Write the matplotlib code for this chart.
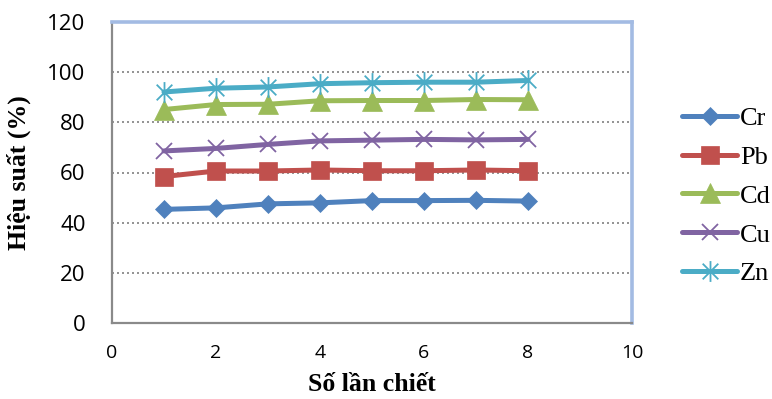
import matplotlib
matplotlib.use("Agg")
import matplotlib.pyplot as plt
from matplotlib.path import Path

# số lần chiết
so_lan = [1, 2, 3, 4, 5, 6, 7, 8]

# hiệu suất (%)
cr = [45.3, 45.9, 47.5, 47.9, 48.8, 48.8, 48.9, 48.6]
pb = [58.4, 60.6, 60.6, 61.0, 60.7, 60.7, 61.0, 60.7]
cd = [85.1, 87.1, 87.2, 88.6, 88.7, 88.7, 89.1, 89.0]
cu = [68.6, 69.6, 71.2, 72.6, 72.9, 73.2, 73.0, 73.2]
zn = [92.1, 93.6, 94.1, 95.4, 95.8, 96.0, 96.0, 96.7]

labels = ["Cr", "Pb", "Cd", "Cu", "Zn"]
colors = ["#4F81BD", "#C0504D", "#9BBB59", "#8064A2", "#4BACC6"]

# dấu sao kiểu Excel: chữ x + gạch đứng
star = Path(
    [(0, -1), (0, 1), (-0.75, -0.75), (0.75, 0.75), (-0.75, 0.75), (0.75, -0.75)],
    [Path.MOVETO, Path.LINETO] * 3,
)

styles = [
    dict(marker="D", ms=9.5, mew=0.5),
    dict(marker="s", ms=12.5, mew=0.5),
    dict(marker="^", ms=15, mew=0.5),
    dict(marker="x", ms=12, mew=1.3),
    dict(marker=star, ms=15, mew=1.3),
]

fig = plt.figure(figsize=(7.72, 3.99), dpi=100)
ax = fig.add_axes([112 / 772, 1 - 323 / 399, 520 / 772, 301 / 399])

for y, lab, col, st in zip([cr, pb, cd, cu, zn], labels, colors, styles):
    ax.plot(so_lan, y, color=col, lw=3.6, label=lab,
            mfc=col, mec=col, solid_capstyle="round", **st)

ax.set_xlim(0, 10)
ax.set_ylim(0, 120)
ax.set_xticks([0, 2, 4, 6, 8, 10])
ax.set_yticks([0, 20, 40, 60, 80, 100, 120])
ax.yaxis.grid(True, color="#808080", ls=(0, (1.2, 1.8)), lw=1.2)
ax.set_axisbelow(True)

ax.tick_params(length=0)
ax.tick_params(axis="y", labelsize=16, pad=19)
ax.tick_params(axis="x", labelsize=14, pad=15)
for t in ax.get_xticklabels() + ax.get_yticklabels():
    t.set_fontfamily("Open Sans")

for side in ("top", "right"):
    ax.spines[side].set_color("#A3BBE3")
    ax.spines[side].set_linewidth(2.6)
for side in ("left", "bottom"):
    ax.spines[side].set_color("#8A8A8A")
    ax.spines[side].set_linewidth(1.6)

ax.set_xlabel("Số lần chiết", fontfamily="Liberation Serif", fontweight="bold",
              fontsize=18.5, labelpad=8)
ax.set_ylabel("Hiệu suất (%)", fontfamily="Liberation Serif", fontweight="bold",
              fontsize=18.5, labelpad=12)

leg = fig.legend(loc="center left", bbox_to_anchor=(682 / 772, 1 - 196 / 399),
                 frameon=False, prop={"family": "Liberation Serif", "size": 19},
                 handlelength=2.1, handletextpad=0.1, labelspacing=0.58,
                 borderpad=0, borderaxespad=0)

fig.savefig("out.png", dpi=100)
